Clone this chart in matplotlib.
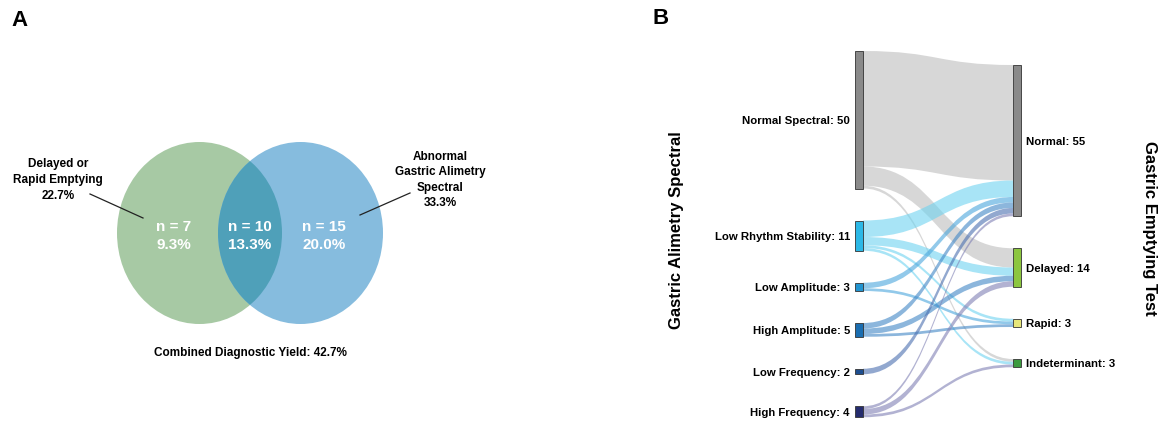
import matplotlib.pyplot as plt
from matplotlib.patches import Ellipse, Rectangle, PathPatch
from matplotlib.path import Path

plt.rcParams['font.family'] = ['Liberation Sans', 'DejaVu Sans']
plt.rcParams['font.weight'] = 'bold'

# ---- panel A data ----
venn_counts = [7, 10, 15]
venn_pcts = ['9.3%', '13.3%', '20.0%']
venn_left_label = 'Delayed or\nRapid Emptying\n22.7%'
venn_right_label = 'Abnormal\nGastric Alimetry\nSpectral\n33.3%'
venn_footer = 'Combined Diagnostic Yield: 42.7%'

# ---- panel B data ----
src_names = ['Normal Spectral', 'Low Rhythm Stability', 'Low Amplitude',
             'High Amplitude', 'Low Frequency', 'High Frequency']
tgt_names = ['Normal', 'Delayed', 'Rapid', 'Indeterminant']
# links: (source index, target index, count)
links = [
    (0, 0, 42), (0, 1, 7), (0, 3, 1),
    (1, 0, 6), (1, 1, 3), (1, 2, 1), (1, 3, 1),
    (2, 0, 2), (2, 2, 1),
    (3, 0, 2), (3, 1, 2), (3, 2, 1),
    (4, 0, 2),
    (5, 0, 1), (5, 1, 2), (5, 3, 1),
]
src_node_colors = ['#8a8a8a', '#2bb8e6', '#2194d0', '#1a6db0', '#1d4e90', '#252c6e']
src_link_colors = ['#bdbdbd', '#6fd3f0', '#4aa6dc', '#3f86c6', '#4a6fb0', '#7f80b4']
tgt_node_colors = ['#8a8a8a', '#8cc63f', '#e6e67a', '#3b9a3f']

fig = plt.figure(figsize=(11.67, 4.27), dpi=100)

# ---------------- Panel A: Venn ----------------
ax_a = fig.add_axes([0, 0, 1, 1])
ax_a.set_xlim(0, 1167)
ax_a.set_ylim(427, 0)
ax_a.axis('off')

w, h, cy = 165, 182, 234
cx_l, cx_r = 199.5, 300.5
left = Ellipse((cx_l, cy), w, h, facecolor='#a7c9a4', edgecolor='none')
right = Ellipse((cx_r, cy), w, h, facecolor='#86bcde', edgecolor='none')
ax_a.add_patch(left)
ax_a.add_patch(right)
over = Ellipse((cx_r, cy), w, h, facecolor='#4fa0b9', edgecolor='none')
ax_a.add_patch(over)
over.set_clip_path(left)

for x, n, p in zip([174, 250, 324], venn_counts, venn_pcts):
    ax_a.text(x, 236, f'n = {n}\n{p}', color='white', fontsize=11,
              ha='center', va='center', linespacing=1.45)

ax_a.text(58, 180, venn_left_label, ha='center', va='center', fontsize=8.5, linespacing=1.4)
ax_a.plot([90, 143], [195, 219], color='#222222', lw=0.9)
ax_a.text(440, 180, venn_right_label, ha='center', va='center', fontsize=8.5, linespacing=1.4)
ax_a.plot([410, 360], [194, 216], color='#222222', lw=0.9)
ax_a.text(250, 353, venn_footer, ha='center', va='center', fontsize=8.5)

ax_a.text(11, 20, 'A', fontsize=16, ha='left', va='center')
ax_a.text(653, 19, 'B', fontsize=16, ha='left', va='center')

# ---------------- Panel B: Sankey ----------------
ax_b = fig.add_axes([0, 0, 1, 1])
ax_b.patch.set_alpha(0)
ax_b.axis('off')
k = 2.75          # pixels per count
top_px = 52
gap = 32 / k
right_offset = 14 / k
ax_b.set_xlim(0, 1167)
ax_b.set_ylim((427 - top_px) / k, -top_px / k)

x_src, x_tgt, node_w = 855, 1013, 8

src_tot = [sum(c for s, t, c in links if s == i) for i in range(len(src_names))]
tgt_tot = [sum(c for s, t, c in links if t == j) for j in range(len(tgt_names))]

src_y, y = [], 0.0
for v in src_tot:
    src_y.append(y)
    y += v + gap
tgt_y, y = [], right_offset
for v in tgt_tot:
    tgt_y.append(y)
    y += v + gap

# link offsets: at source ordered by target, at target ordered by source
src_off = {}
for i in range(len(src_names)):
    y = src_y[i]
    for s, t, c in sorted([l for l in links if l[0] == i], key=lambda l: l[1]):
        src_off[(s, t)] = y
        y += c
tgt_off = {}
for j in range(len(tgt_names)):
    y = tgt_y[j]
    for s, t, c in sorted([l for l in links if l[1] == j], key=lambda l: l[0]):
        tgt_off[(s, t)] = y
        y += c

x0, x1 = x_src + node_w, x_tgt
xm = (x0 + x1) / 2
for s, t, c in links:
    s0, t0 = src_off[(s, t)], tgt_off[(s, t)]
    s1, t1 = s0 + c, t0 + c
    verts = [(x0, s0), (xm, s0), (xm, t0), (x1, t0),
             (x1, t1), (xm, t1), (xm, s1), (x0, s1), (x0, s0)]
    codes = [Path.MOVETO, Path.CURVE4, Path.CURVE4, Path.CURVE4,
             Path.LINETO, Path.CURVE4, Path.CURVE4, Path.CURVE4, Path.CLOSEPOLY]
    ax_b.add_patch(PathPatch(Path(verts, codes), facecolor=src_link_colors[s],
                             edgecolor='none', alpha=0.6))

for i, name in enumerate(src_names):
    ax_b.add_patch(Rectangle((x_src, src_y[i]), node_w, src_tot[i],
                             facecolor=src_node_colors[i], edgecolor='#333333', lw=0.6))
    ax_b.text(x_src - 5, src_y[i] + src_tot[i] / 2, f'{name}: {src_tot[i]}',
              ha='right', va='center', fontsize=8.2)
for j, name in enumerate(tgt_names):
    ax_b.add_patch(Rectangle((x_tgt, tgt_y[j]), node_w, tgt_tot[j],
                             facecolor=tgt_node_colors[j], edgecolor='#333333', lw=0.6))
    ax_b.text(x_tgt + node_w + 5, tgt_y[j] + tgt_tot[j] / 2, f'{name}: {tgt_tot[j]}',
              ha='left', va='center', fontsize=8.2)

ax_a.text(677, 230, 'Gastric Alimetry Spectral', rotation=90, ha='center', va='center', fontsize=12)
ax_a.text(1150, 228, 'Gastric Emptying Test', rotation=-90, ha='center', va='center', fontsize=12)

fig.savefig('out.png', dpi=100, facecolor='white')
